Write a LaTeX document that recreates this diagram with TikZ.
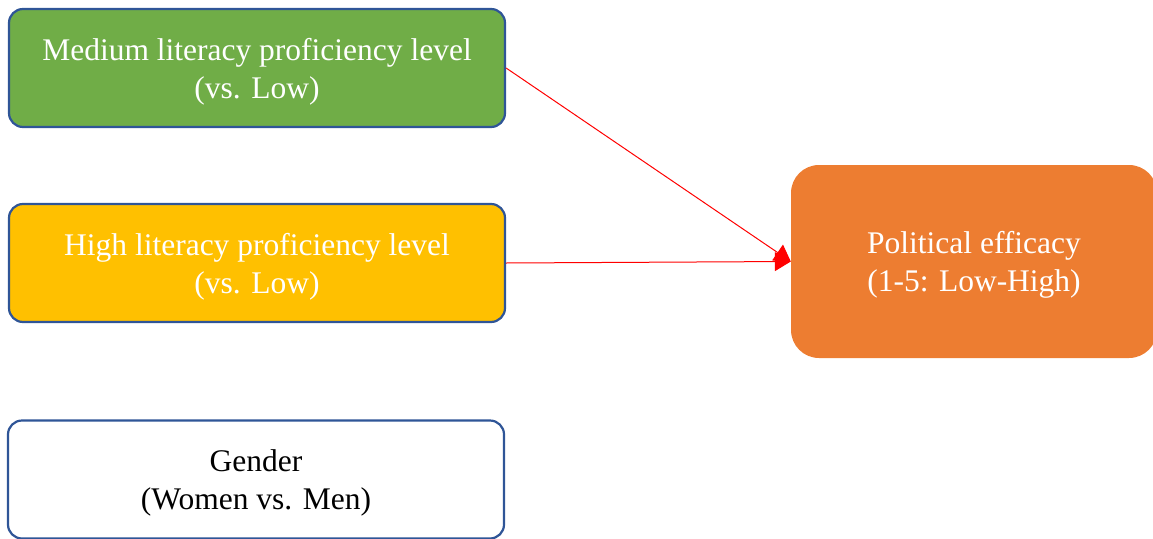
\documentclass[tikz,border=0pt]{standalone}
\usepackage{fontspec}
\setmainfont{Liberation Serif}
\usetikzlibrary{
    arrows.meta,
    positioning
}
\definecolor{boxgreen}{HTML}{70AD47}
\definecolor{boxyellow}{HTML}{FFC000}
\definecolor{boxorange}{HTML}{ED7D31}
\definecolor{boxblue}{HTML}{2F5597}
\tikzset{varbox/.style={rectangle, rounded corners=14pt, draw=boxblue, line width=2.2pt, minimum width=496pt, minimum height=118pt, align=center, text depth=0pt, font=\fontsize{31.5}{38}\selectfont}}
\tikzset{outbox/.style={rectangle, rounded corners=28pt, fill=boxorange, minimum width=366pt, minimum height=193pt, align=center, text depth=0pt, text=white, font=\fontsize{31.5}{38}\selectfont}}
\tikzset{effect/.style={draw=red, line width=1pt, -{Triangle[length=16pt, width=19pt]}}}

\begin{document}
\begin{tikzpicture}[x=1pt, y=-1pt]
                    \useasboundingbox (0, 0) rectangle (1153, 538);
                    \clip (0, 0) rectangle (1153, 538);

                    \node[varbox, fill=boxgreen, text=white] (medium) at (257, 68) {Medium literacy proficiency level\\(vs. Low)};
                    \node[varbox, fill=boxyellow, text=white] (high) at (257, 263) {High literacy proficiency level\\(vs. Low)};
                    \node[varbox, fill=white, text=black] (gender) at (256, 479.5) {Gender\\(Women vs. Men)};

                    \node[outbox] (efficacy) at (974, 261.5) {Political efficacy\\(1-5: Low-High)};

                    \draw
                    (medium.east) edge[effect] (efficacy.west)
                    (high.east) edge[effect] (efficacy.west);
                \end{tikzpicture}
\end{document}
